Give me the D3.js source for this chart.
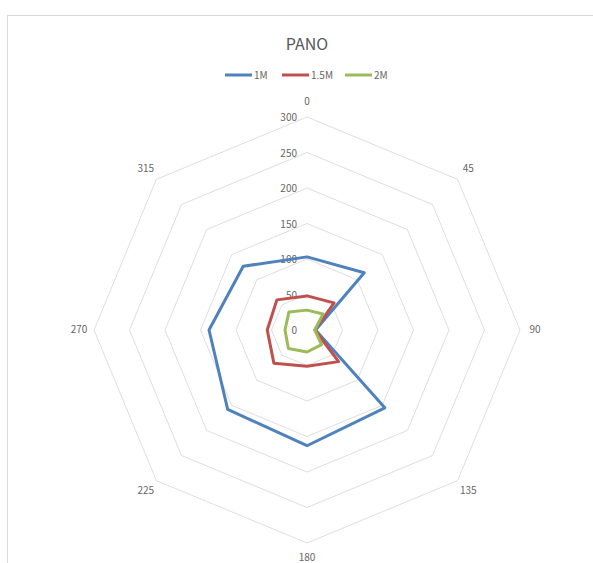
<!DOCTYPE html>
<html><head><meta charset="utf-8">
<script src="https://cdn.jsdelivr.net/npm/d3@7"></script>
<style>body{margin:0;background:#fff;} text{font-family:"Noto Sans CJK KR","Open Sans",sans-serif;}</style>
</head><body>
<svg id="c" width="593" height="563"></svg>
<script>
const categories = ["0","45","90","135","180","225","270","315"];
const seriesNames = ["1M","1.5M","2M"];
const s1M  = [103,114,12,155,163,158,138,127];
const s15M = [48,54,11,63,51,66,56,60];
const s2M  = [28,32,11,29,31,37,31,36];
const tickValues = [0,50,100,150,200,250,300];
const colors = ["#4F81BD","#C0504D","#9BBB59"];

const svg = d3.select("#c");
svg.append("rect").attr("x",7.5).attr("y",15.5).attr("width",620).attr("height",620)
  .attr("fill","#fff").attr("stroke","#d9d9d9");

const cx = 307, cy = 330;
const r = d3.scaleLinear().domain([0,300]).range([0,213]);
const ang = d3.scalePoint().domain(categories).range([0, 2*Math.PI*7/8]);
const pt = (c,v) => [cx + r(v)*Math.sin(ang(c)), cy - r(v)*Math.cos(ang(c))];

const g = svg.append("g");
tickValues.filter(t=>t>0).forEach(t=>{
  g.append("path").attr("d", d3.line()(categories.map(c=>pt(c,t))) + "Z")
   .attr("fill","none").attr("stroke","#dedede").attr("stroke-width",1);
});
tickValues.forEach(t=>{
  g.append("text").attr("x",cx-10).attr("y",cy - r(t)+4).attr("text-anchor","end")
   .attr("font-size",10).attr("fill","#666").text(t);
});
categories.forEach(c=>{
  const [x,y] = [cx + 228*Math.sin(ang(c)), cy - 228*Math.cos(ang(c))];
  g.append("text").attr("x",x).attr("y",y+3).attr("text-anchor","middle")
   .attr("font-size",10).attr("fill","#666").text(c);
});

const allSeries = [s1M, s15M, s2M];
allSeries.forEach((s,i)=>{
  g.append("path").attr("d", d3.line()(categories.map((c,j)=>pt(c,s[j]))) + "Z")
   .attr("fill","none").attr("stroke",colors[i]).attr("stroke-width",3)
   .attr("stroke-linejoin","round");
});

svg.append("text").attr("x",307).attr("y",50).attr("text-anchor","middle")
  .attr("font-size",16).attr("fill","#595959").text("PANO");

const legX = [225, 282, 345];
seriesNames.forEach((n,i)=>{
  svg.append("line").attr("x1",legX[i]).attr("x2",legX[i]+27).attr("y1",75).attr("y2",75)
    .attr("stroke",colors[i]).attr("stroke-width",3);
  svg.append("text").attr("x",legX[i]+29).attr("y",79).attr("font-size",10)
    .attr("fill","#666").text(n);
});
</script>
</body></html>
